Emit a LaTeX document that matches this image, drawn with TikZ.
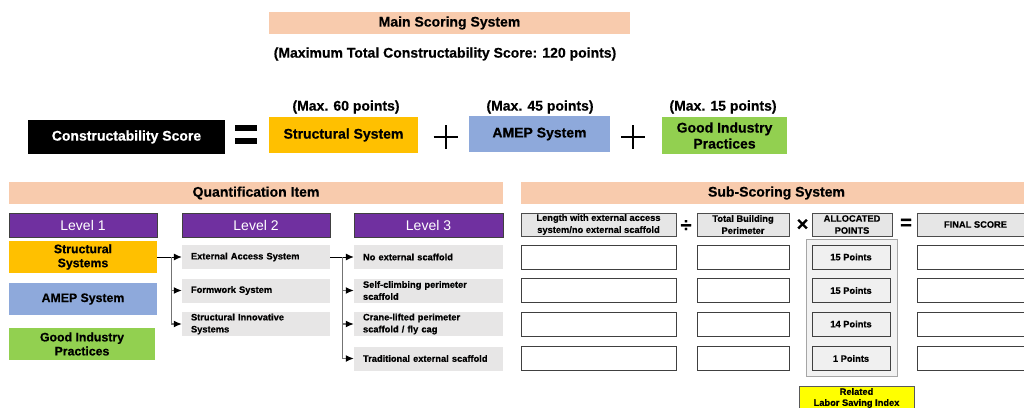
\documentclass[tikz,border=0pt]{standalone}
\usepackage{fontspec}
\setmainfont{Liberation Sans}[BoldFeatures={FakeBold=0.5}]
\usepackage{xcolor}
\usetikzlibrary{positioning,arrows.meta}
\definecolor{peach}{HTML}{F8CBAD}
\definecolor{structyellow}{HTML}{FFC000}
\definecolor{amepblue}{HTML}{8EA9DB}
\definecolor{goodgreen}{HTML}{92D050}
\definecolor{levelpurple}{HTML}{7030A0}
\definecolor{itemgray}{HTML}{E7E6E6}
\definecolor{headgray}{HTML}{E6E6E6}
\definecolor{panelgray}{HTML}{F2F2F2}
\definecolor{pointgray}{HTML}{F0F0F0}
\definecolor{indexyellow}{HTML}{FFFF00}
\newcommand{\fsz}[2]{\fontsize{#1}{#2}\selectfont}

\begin{document}
\begin{tikzpicture}[x=1pt,y=-1pt,
  >={Latex[length=8pt,width=7pt,color=black]},
  cell/.style={rectangle,inner sep=0pt,align=center,font=\bfseries\fsz{14}{16}},
  band/.style={cell,fill=peach,minimum height=22pt},
  topbox/.style={cell,minimum height=36pt},
  levelbox/.style={cell,fill=levelpurple,draw=black!75,line width=0.8pt,
    minimum width=148pt,minimum height=24pt,text=white,font=\fsz{14}{15}},
  firstbox/.style={cell,minimum width=148pt,minimum height=32pt,font=\bfseries\fsz{12.3}{14}},
  itembox/.style={rectangle,fill=itemgray,minimum height=24pt,text width=130pt,
    inner xsep=9pt,inner ysep=0pt,align=left,font=\bfseries\fsz{9.3}{12}},
  headbox/.style={cell,fill=headgray,draw=black!70,line width=1pt,minimum height=23pt,
    font=\bfseries\fsz{9.3}{12}},
  blankbox/.style={rectangle,draw=black!75,line width=1pt,fill=white,minimum height=24pt},
  pointbox/.style={cell,draw=black!75,line width=1pt,fill=pointgray,minimum width=78pt,
    minimum height=24pt,font=\bfseries\fsz{9.3}{12}},
  op/.style={inner sep=0pt,font=\bfseries\fsz{20}{20}},
  branch/.style={->,draw=black!55,line width=1.2pt},
  stem/.style={->,draw=black,line width=1pt}]
\useasboundingbox (0,0) rectangle (1024,407);
\clip (0,0) rectangle (1024,407);

% main scoring system
\node[band,minimum width=361pt] (mainhead) at (449.5,23) {Main Scoring System};
\node[cell] (maxtotal) at (445,54) {(Maximum Total Constructability Score: 120 points)};
\node[topbox,fill=black,text=white,minimum width=197pt,minimum height=34pt] (cscore) at (126.5,137) {Constructability Score};
\fill (235,125) rectangle (257,131);
\fill (235,138) rectangle (257,144);
\node[topbox,fill=structyellow,minimum width=149pt] (struct) at (343.5,135) {Structural System};
\node[cell] (maxstruct) at (346,107) {(Max. 60 points)};
\draw[line width=2pt] (433.5,137) -- (457.5,137) (445.5,125) -- (445.5,149);
\node[topbox,fill=amepblue,minimum width=141pt] (amep) at (539.5,134) {AMEP System};
\node[cell] (maxamep) at (540,107) {(Max. 45 points)};
\draw[line width=2pt] (621,137) -- (645,137) (633,125) -- (633,149);
\node[topbox,fill=goodgreen,minimum width=125pt,minimum height=37pt] (good) at (724.5,135.5) {Good Industry\\Practices};
\node[cell] (maxgood) at (723,107) {(Max. 15 points)};

% quantification item
\node[band,minimum width=494pt] (qhead) at (256,193) {Quantification Item};
\node[levelbox] (lev1) at (83,225) {Level 1};
\node[levelbox] (lev2) at (256,225) {Level 2};
\node[levelbox,minimum width=149pt] (lev3) at (428.5,225) {Level 3};

\node[firstbox,fill=structyellow] (fstruct) at (83,257) {Structural\\Systems};
\node[firstbox,fill=amepblue] (famep) at (83,299) {AMEP System};
\node[firstbox,fill=goodgreen,minimum width=146pt] (fgood) at (82,344) {Good Industry\\Practices};

\node[itembox] (access) at (256,257) {External Access System};
\node[itembox] (formwork) at (256,290.5) {Formwork System};
\node[itembox] (innov) at (256,324) {Structural Innovative\\Systems};

\node[itembox,text width=131pt] (noscaf) at (428.5,257) {No external scaffold};
\node[itembox,text width=131pt] (selfclimb) at (428.5,290.5) {Self-climbing perimeter\\scaffold};
\node[itembox,text width=131pt] (crane) at (428.5,324) {Crane-lifted perimeter\\scaffold / fly cag};
\node[itembox,text width=131pt] (tradscaf) at (428.5,358.5) {Traditional external scaffold};

\coordinate (split1) at ([xshift=14pt]fstruct.east);
\coordinate (split2) at ([xshift=12pt]access.east);
\draw[stem] (fstruct.east) -- (access.west);
\draw[branch] (split1) |- (formwork.west);
\draw[branch] (split1) |- (innov.west);
\draw[stem] (access.east) -- (noscaf.west);
\draw[branch] (split2) |- (selfclimb.west);
\draw[branch] (split2) |- (crane.west);
\draw[branch] (split2) |- (tradscaf.west);

% sub-scoring system
\node[band,minimum width=511pt] (shead) at (776.5,193) {Sub-Scoring System};
\node[headbox,minimum width=155pt] (hlength) at (598.5,224.5) {Length with external access\\system/no external scaffold};
\node[op] (divide) at (686,226) {÷};
\node[headbox,minimum width=92pt] (hperim) at (743,224.5) {Total Building\\Perimeter};
\node[op] (times) at (802.5,225) {×};
\node[headbox,minimum width=80pt] (halloc) at (852,224.5) {ALLOCATED\\POINTS};
\node[op] (equals) at (906,224) {=};
\node[headbox,minimum width=117pt] (hfinal) at (975.5,224.5) {FINAL SCORE};

\node[blankbox,minimum width=155pt] (len1) at (598.5,257) {};
\node[blankbox,minimum width=155pt] (len2) at (598.5,290.5) {};
\node[blankbox,minimum width=155pt] (len3) at (598.5,324) {};
\node[blankbox,minimum width=155pt] (len4) at (598.5,358.5) {};
\node[blankbox,minimum width=92pt] (per1) at (743,257) {};
\node[blankbox,minimum width=92pt] (per2) at (743,290.5) {};
\node[blankbox,minimum width=92pt] (per3) at (743,324) {};
\node[blankbox,minimum width=92pt] (per4) at (743,358.5) {};
\node[blankbox,minimum width=117pt] (fin1) at (975.5,257) {};
\node[blankbox,minimum width=117pt] (fin2) at (975.5,290.5) {};
\node[blankbox,minimum width=117pt] (fin3) at (975.5,324) {};
\node[blankbox,minimum width=117pt] (fin4) at (975.5,358.5) {};

\node[rectangle,fill=panelgray,draw=black!35,line width=1pt,minimum width=91pt,minimum height=137pt] (panel) at (851.5,307.5) {};
\node[pointbox] (pts1) at (851,257) {15 Points};
\node[pointbox] (pts2) at (851,290.5) {15 Points};
\node[pointbox] (pts3) at (851,324) {14 Points};
\node[pointbox] (pts4) at (851,358.5) {1 Points};

\node[cell,fill=indexyellow,draw=black!65,line width=1pt,minimum width=115pt,minimum height=24pt,font=\bfseries\fsz{9.3}{11}] (labor) at (856.5,398) {Related\\Labor Saving Index};
\end{tikzpicture}
\end{document}
